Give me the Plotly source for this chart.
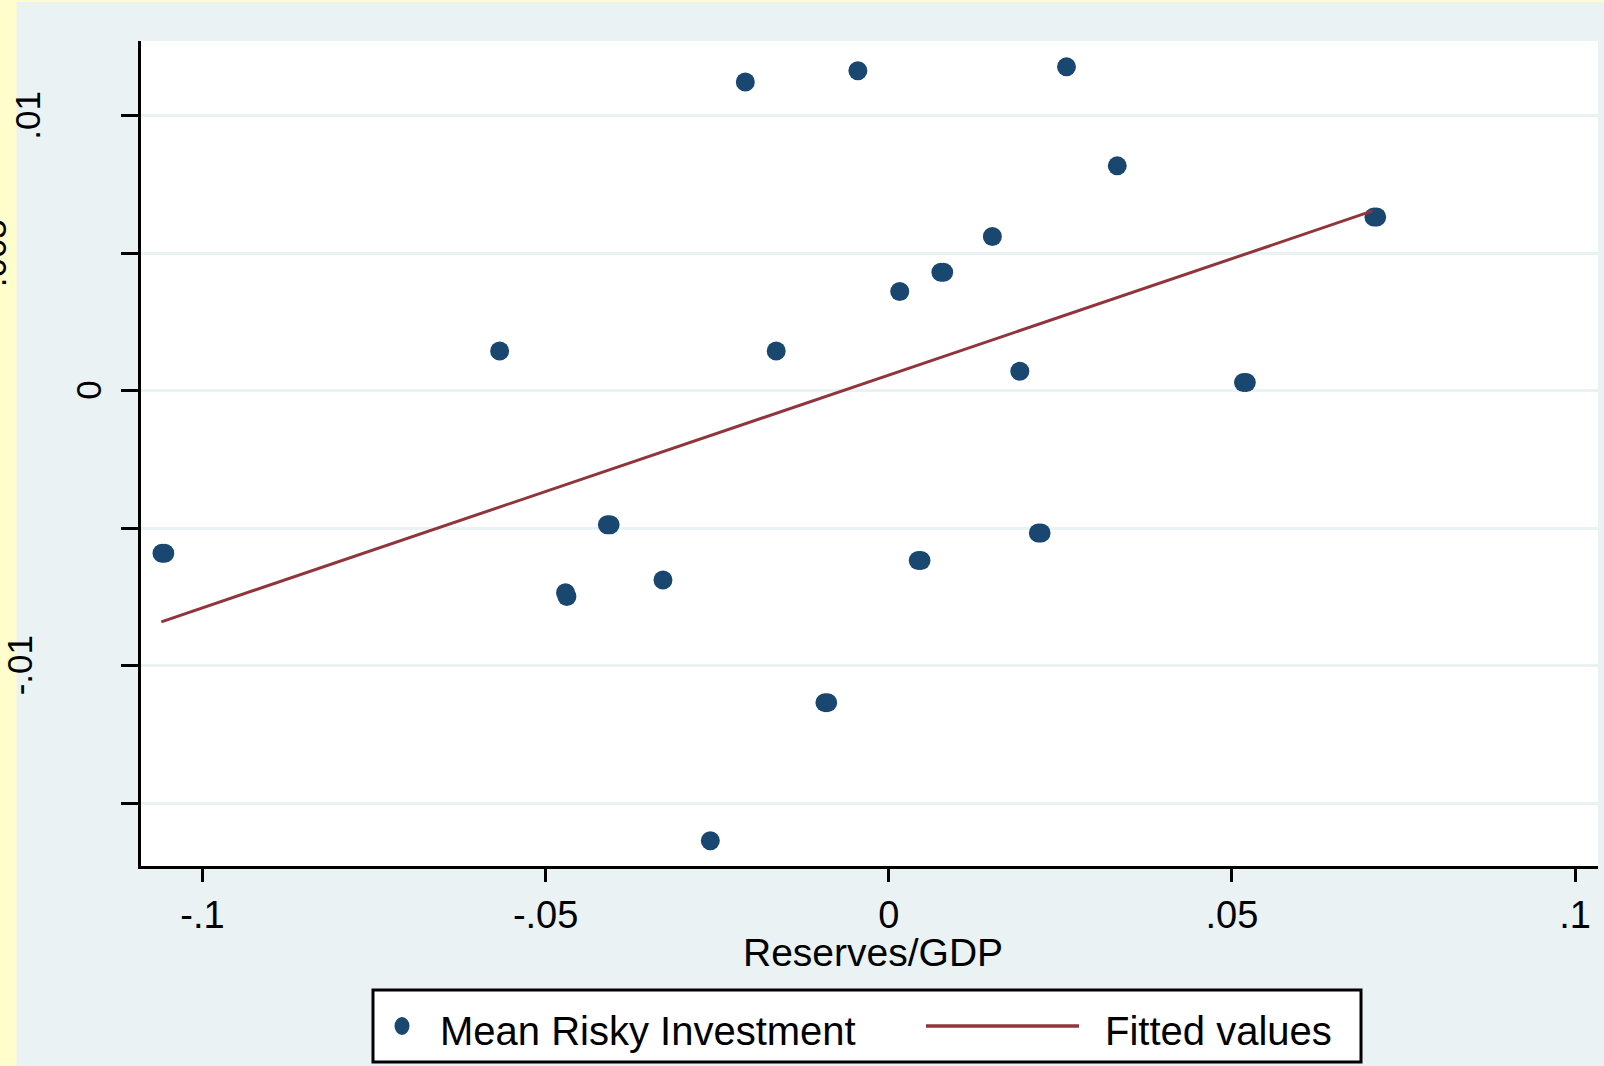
import plotly.graph_objects as go

# ---- data ----
reserves_gdp = [-0.1059, -0.1055, -0.0567, -0.0471, -0.0469, -0.0410, -0.0406, -0.0329,
                -0.0260, -0.0209, -0.0164, -0.0093, -0.0089, -0.0045, 0.0016,
                0.0043, 0.0047, 0.0076, 0.0080, 0.0151, 0.0191, 0.0218, 0.0222,
                0.0259, 0.0333, 0.0517, 0.0521, 0.0707, 0.0711]
mean_risky_inv = [-0.00591, -0.00591, 0.00145, -0.00734, -0.00748, -0.00487, -0.00487, -0.00688,
                  -0.01636, 0.01123, 0.00145, -0.01134, -0.01134, 0.01164, 0.00361,
                  -0.00617, -0.00617, 0.00431, 0.00431, 0.00561, 0.00071, -0.00517, -0.00517,
                  0.01178, 0.00818, 0.00030, 0.00030, 0.00632, 0.00632]
fitted_x = [-0.1060, 0.0705]
fitted_y = [-0.00840, 0.00654]

x_tickvals = [-0.1, -0.05, 0, 0.05, 0.1]
x_ticktext = ["-.1", "-.05", "0", ".05", ".1"]
y_tickvals = [-0.015, -0.01, -0.005, 0, 0.005, 0.01]
y_labels = [(0.01, ".01", 32), (0.0, "0", 93), (-0.01, "-.01", 23.5), (0.005, ".005", -3)]

series_names = ["Mean Risky Investment", "Fitted values"]
x_title = "Reserves/GDP"

# ---- layout constants (pixels) ----
W, H = 1604, 1066
L, R, T, B = 141, 1598, 41, 866
PW, PH = R - L, B - T
NAVY = "#1A476F"
MAROON = "#90353B"
BG = "#EAF2F3"
FONT = "Liberation Sans, Arial, sans-serif"


def px(xp):
    return (xp - L) / PW


def py(yp):
    return (B - yp) / PH


fig = go.Figure()
fig.add_trace(go.Scatter(x=reserves_gdp, y=mean_risky_inv, mode="markers",
                         name=series_names[0], showlegend=False,
                         marker=dict(color=NAVY, size=19, line=dict(width=0))))
fig.add_trace(go.Scatter(x=fitted_x, y=fitted_y, mode="lines",
                         name=series_names[1], showlegend=False,
                         line=dict(color=MAROON, width=3)))

shapes = [
    # yellow strips at the left and top edges
    dict(type="rect", xref="paper", yref="paper", x0=px(-5), x1=px(16.5), y0=py(H + 5), y1=py(-5),
         fillcolor="#FFFDCC", line=dict(width=0), layer="below"),
    dict(type="rect", xref="paper", yref="paper", x0=px(-5), x1=px(W + 5), y0=py(2), y1=py(-5),
         fillcolor="#FFFDCC", line=dict(width=0), layer="below"),
    # legend box
    dict(type="rect", xref="paper", yref="paper", x0=px(373), x1=px(1361), y0=py(1062), y1=py(990),
         fillcolor="white", line=dict(color="black", width=3)),
    dict(type="circle", xref="paper", yref="paper", xsizemode="pixel", ysizemode="pixel",
         xanchor=px(402), yanchor=py(1026), x0=-7.5, x1=7.5, y0=-9, y1=9,
         fillcolor=NAVY, line=dict(width=0)),
    dict(type="line", xref="paper", yref="paper", x0=px(926), x1=px(1079), y0=py(1026), y1=py(1026),
         line=dict(color=MAROON, width=3.5)),
]

annotations = []
for val, txt, xc in y_labels:
    annotations.append(dict(xref="paper", yref="y", x=px(xc - 4), y=val, text=txt, textangle=-90,
                            showarrow=False, xanchor="center", yanchor="middle",
                            font=dict(family=FONT, size=35, color="black")))
annotations.append(dict(xref="paper", yref="paper", x=px(873), y=py(952), text=x_title,
                        showarrow=False, xanchor="center", yanchor="middle",
                        font=dict(family=FONT, size=39, color="black")))
annotations.append(dict(xref="paper", yref="paper", x=px(438), y=py(1031), text=series_names[0],
                        showarrow=False, xanchor="left", yanchor="middle",
                        font=dict(family=FONT, size=40, color="black")))
annotations.append(dict(xref="paper", yref="paper", x=px(1103), y=py(1031), text=series_names[1],
                        showarrow=False, xanchor="left", yanchor="middle",
                        font=dict(family=FONT, size=40, color="black")))

x0_val = -0.1 - (202.5 - L) / ((1575 - 202.5) / 0.2)
x1_val = 0.1 + (R - 1575) / ((1575 - 202.5) / 0.2)
ppu_y = 275 / 0.01
y1_val = (390.8 - T) / ppu_y
y0_val = -(B - 390.8) / ppu_y

fig.update_layout(
    width=W, height=H, autosize=False,
    margin=dict(l=L, r=W - R, t=T, b=H - B, pad=0),
    paper_bgcolor=BG, plot_bgcolor="white",
    font=dict(family=FONT, size=40, color="black"),
    showlegend=False,
    shapes=shapes, annotations=annotations,
    xaxis=dict(range=[x0_val, x1_val], tickvals=x_tickvals, ticktext=x_ticktext,
               ticks="outside", ticklen=13, tickwidth=3, tickcolor="black",
               showline=True, linewidth=3, linecolor="black", mirror=False,
               showgrid=False, zeroline=False,
               tickfont=dict(family=FONT, size=38)),
    yaxis=dict(range=[y0_val, y1_val], tickvals=y_tickvals, showticklabels=False,
               ticks="outside", ticklen=17, tickwidth=3, tickcolor="black",
               showline=True, linewidth=3, linecolor="black",
               showgrid=True, gridcolor=BG, gridwidth=3, zeroline=False),
)

fig.write_html("out.html", config={"displayModeBar": False},
               post_script="document.body.style.margin='0';document.body.style.overflow='hidden';")
